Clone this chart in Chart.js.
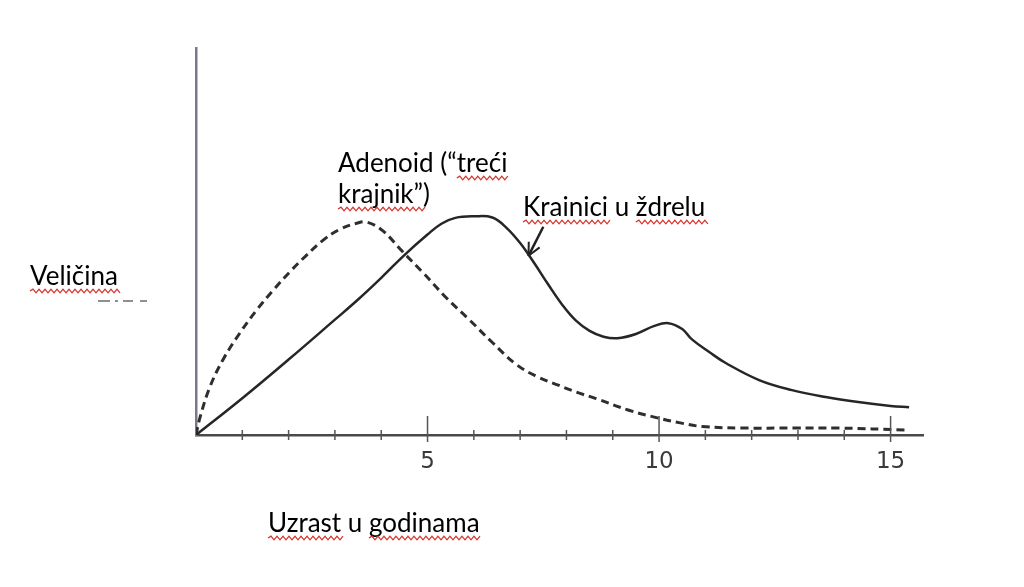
<!DOCTYPE html>
<html>
<head>
<meta charset="utf-8">
<script src="https://cdn.jsdelivr.net/npm/chart.js@4"></script>
<style>
html, body { margin: 0; padding: 0; background: #fff; }
</style>
</head>
<body>
<canvas id="chart" width="1024" height="587"></canvas>
<script>
// tonsils (solid line)
var tonsilX = [0, 1, 2, 3, 3.5, 4, 4.5, 5, 5.3, 5.6, 6.0, 6.4, 6.7, 7.0, 7.3, 7.6, 7.9, 8.2, 8.5, 8.8, 9.1, 9.5, 9.9, 10.2, 10.5, 10.71, 11.1, 11.44, 12.16, 12.87, 13.6, 14.3, 15.0, 15.4];
var tonsilY = [0, 9.5, 19.5, 29.8, 35.0, 40.6, 46.5, 51.8, 54.6, 56.1, 56.5, 56.2, 53.6, 49.6, 44.5, 39.0, 33.8, 29.6, 26.9, 25.4, 25.0, 26.1, 28.2, 28.9, 27.4, 24.7, 21.3, 18.6, 14.2, 11.6, 9.8, 8.5, 7.5, 7.2];

// adenoid (dashed line)
var adenoidX = [0, 0.09, 0.3, 0.58, 0.95, 1.31, 1.66, 2.03, 2.39, 2.74, 3.1, 3.47, 3.69, 4.03, 4.46, 4.89, 5.41, 5.91, 6.4, 6.92, 7.35, 7.84, 8.21, 8.64, 9.35, 9.94, 10.43, 10.93, 11.8, 12.9, 13.9, 15.3];
var adenoidY = [0, 4.7, 12.4, 19.4, 26.4, 32.3, 37.3, 42.2, 46.5, 50.3, 53.1, 54.7, 55.0, 52.8, 47.4, 42.1, 35.4, 29.7, 23.9, 18.2, 15.2, 12.8, 11.1, 9.4, 6.4, 4.5, 3.2, 2.2, 1.8, 1.8, 1.8, 1.3];

var xTickVals = [5, 10, 15];
var minorTicks = [1, 2, 3, 4, 6, 7, 8, 9, 11, 12, 13, 14];

var yLabel = 'Veličina';
var xLabel = 'Uzrast u godinama';
var adenoidLabel = ['Adenoid (“treći', 'krajnik”)'];
var tonsilLabel = 'Krainici u ždrelu';

function toPoints(xs, ys) {
    var pts = [];
    for (var i = 0; i < xs.length; i++) pts.push({x: xs[i], y: ys[i]});
    return pts;
}

function wavy(ctx, x1, x2, y) {
    ctx.save();
    ctx.strokeStyle = '#d8322a';
    ctx.lineWidth = 1.3;
    ctx.beginPath();
    ctx.moveTo(x1, y);
    var up = true;
    for (var x = x1; x < x2; x += 3) {
        ctx.lineTo(x + 3, up ? y - 1.8 : y + 1.8);
        up = !up;
    }
    ctx.stroke();
    ctx.restore();
}

// draw a text, with red squiggles under some words
function note(ctx, text, x, y, marked) {
    ctx.fillText(text, x, y);
    for (var i = 0; i < marked.length; i++) {
        var start = text.indexOf(marked[i]);
        var x1 = x + ctx.measureText(text.slice(0, start)).width;
        var x2 = x1 + ctx.measureText(marked[i]).width;
        wavy(ctx, x1, x2, y + 6);
    }
}

var decor = {
    id: 'decor',
    afterDraw: function(chart) {
        var ctx = chart.ctx;
        var xs = chart.scales.x, ys = chart.scales.y;
        var base = ys.getPixelForValue(0);

        // axis ticks crossing the x axis
        ctx.save();
        ctx.strokeStyle = '#555';
        ctx.lineWidth = 1.5;
        minorTicks.forEach(function(v) {
            var px = xs.getPixelForValue(v);
            ctx.beginPath(); ctx.moveTo(px, base - 5); ctx.lineTo(px, base + 5); ctx.stroke();
        });
        xTickVals.forEach(function(v) {
            var px = xs.getPixelForValue(v);
            ctx.beginPath(); ctx.moveTo(px, base - 19); ctx.lineTo(px, base + 7); ctx.stroke();
        });
        ctx.restore();

        // arrow pointing at the tonsil curve
        var tipX = xs.getPixelForValue(7.18), tipY = ys.getPixelForValue(46.3);
        var tailX = xs.getPixelForValue(7.5), tailY = ys.getPixelForValue(53.8);
        var ang = Math.atan2(tipY - tailY, tipX - tailX);
        ctx.save();
        ctx.strokeStyle = '#222';
        ctx.lineWidth = 2.5;
        ctx.beginPath(); ctx.moveTo(tailX, tailY); ctx.lineTo(tipX, tipY); ctx.stroke();
        ctx.lineWidth = 2;
        [0.45, -0.45].forEach(function(d) {
            ctx.beginPath();
            ctx.moveTo(tipX, tipY);
            ctx.lineTo(tipX - 14 * Math.cos(ang + d), tipY - 14 * Math.sin(ang + d));
            ctx.stroke();
        });
        ctx.restore();

        // faint dash mark left of the axis
        ctx.save();
        ctx.strokeStyle = '#6a6a6a';
        ctx.lineWidth = 1.5;
        [[98, 110], [115, 118], [123, 133], [140, 147]].forEach(function(s) {
            ctx.beginPath(); ctx.moveTo(s[0], 301); ctx.lineTo(s[1], 301); ctx.stroke();
        });
        ctx.restore();

        // labels
        ctx.save();
        ctx.fillStyle = '#000';
        ctx.font = '26px Lato';
        ctx.textBaseline = 'alphabetic';
        note(ctx, yLabel, 30, 285, [yLabel]);
        note(ctx, adenoidLabel[0], 338, 172, ['treći']);
        note(ctx, adenoidLabel[1], 338, 203, ['krajnik”']);
        note(ctx, tonsilLabel, 523, 216, ['Krainici', 'ždrelu']);
        note(ctx, xLabel, 268, 532, ['Uzrast', 'godinama']);
        ctx.restore();
    }
};

var ctx = document.getElementById('chart').getContext('2d');
var myChart = new Chart(ctx, {
    type: 'line',
    data: {
        datasets: [{
            label: tonsilLabel,
            data: toPoints(tonsilX, tonsilY),
            borderColor: '#262626',
            borderWidth: 2.5,
            pointRadius: 0,
            tension: 0.4,
            fill: false
        }, {
            label: 'Adenoid',
            data: toPoints(adenoidX, adenoidY),
            borderColor: '#2e2e2e',
            borderWidth: 3,
            borderDash: [8, 5],
            pointRadius: 0,
            tension: 0.4,
            fill: false
        }]
    },
    options: {
        responsive: false,
        animation: false,
        layout: { padding: { left: 196, right: 101, top: 48, bottom: 0 } },
        plugins: { legend: { display: false }, tooltip: { enabled: false } },
        scales: {
            x: {
                type: 'linear',
                min: 0,
                max: 15.7,
                grid: { drawOnChartArea: false, drawTicks: false },
                border: { display: true, color: '#4a4a4a', width: 2.5 },
                afterBuildTicks: function(s) { s.ticks = xTickVals.map(function(v) { return {value: v}; }); },
                ticks: { font: { family: 'DejaVu Sans', size: 23 }, color: '#3a3a3a', padding: 13, maxRotation: 0, autoSkip: false },
                afterFit: function(s) { s.height = 587 - 435; }
            },
            y: {
                min: 0,
                max: 100,
                grid: { drawOnChartArea: false, drawTicks: false },
                border: { display: true, color: '#7f7787', width: 2.5 },
                ticks: { display: false },
                afterFit: function(s) { s.width = 0; }
            }
        }
    },
    plugins: [decor]
});
</script>
</body>
</html>
